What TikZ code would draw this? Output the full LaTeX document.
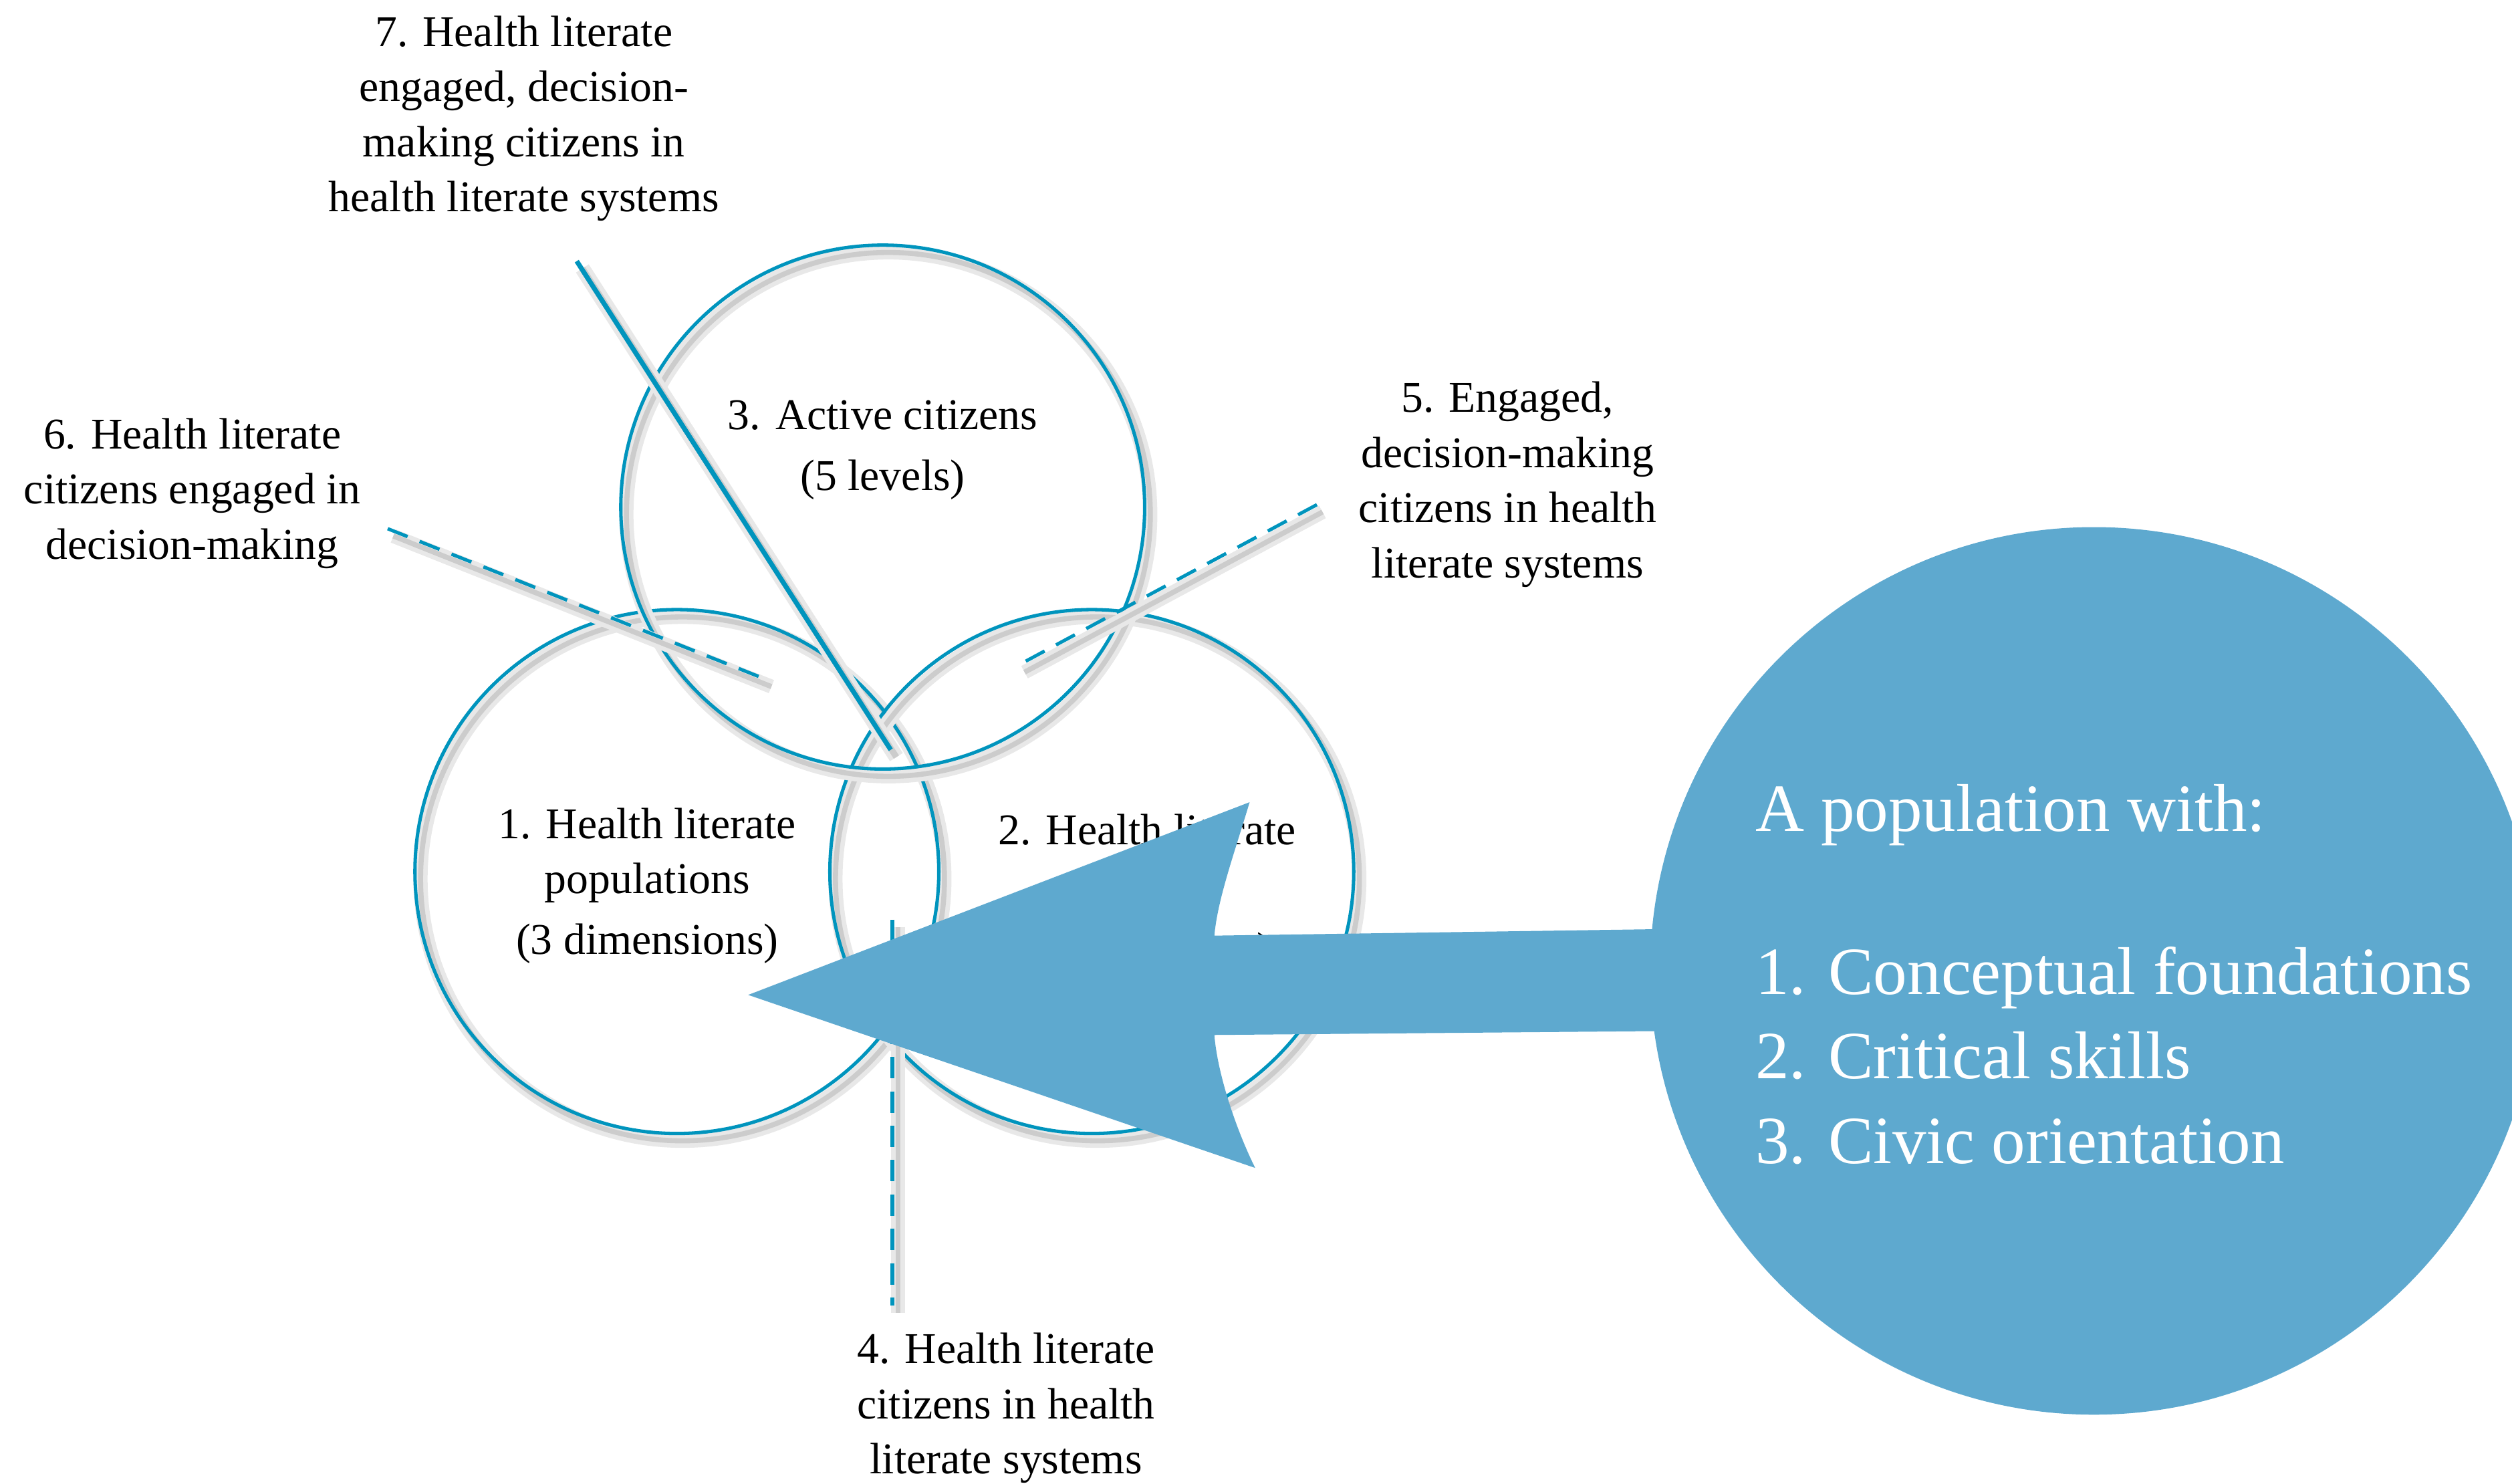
\documentclass[tikz,border=0pt]{standalone}
\usepackage{fontspec}
\setmainfont{Liberation Serif}
\usetikzlibrary{positioning}
\definecolor{hlteal}{RGB}{0,148,189}
\definecolor{hlfill}{RGB}{94,169,207}
\tikzset{
  shadowed/.style={
    preaction={draw=black!9, line width=#1+1.6pt, transform canvas={shift={(1pt,-1.3pt)}}},
    preaction={draw=black!20, line width=#1, transform canvas={shift={(1pt,-1.3pt)}}}},
  ring/.style={circle, draw=hlteal, line width=0.6pt, minimum size=3.27cm, inner sep=0pt, shadowed=0.9pt},
  leader/.style={draw=hlteal, line width=0.6pt, dash pattern=on 3.8pt off 2.3pt, shadowed=0.9pt},
  lbl/.style={align=center, font=\fontsize{7.8}{9.8}\selectfont},
}

\begin{document}
\begin{tikzpicture}
\useasboundingbox (0,0) rectangle (15.68,9.26);
% the three overlapping circles
\node[ring] (c1) at (4.225,3.82) {};
\node[ring] (c2) at (6.815,3.82) {};
\node[ring] (c3) at (5.51,6.095) {};
% end points of the leader lines
\coordinate (p7) at (3.60,7.63); \coordinate (q7) at (5.56,4.58);
\coordinate (p6) at (2.42,5.96); \coordinate (q6) at (4.78,5.02);
\coordinate (p5) at (8.22,6.11); \coordinate (q5) at (6.36,5.11);
\coordinate (p4) at (5.57,3.52); \coordinate (q4) at (5.57,1.11);
\draw[hlteal, line width=0.85pt, shadowed=1.1pt] (p7) -- (q7);
\draw[leader] (p6) -- (q6);
\draw[leader] (p5) -- (q5);
\draw[leader] (p4) -- (q4);
% labels
\node[lbl] (l1) at (4.04,3.73) {1. Health literate\\populations\\[1pt](3 dimensions)};
\node[lbl] (l2) at (7.16,4.08) {2. Health literate};
\node[lbl, anchor=base] (l2b) at (7.89,3.25) {)};
\node[lbl] (l3) at (5.51,6.45) {3. Active citizens\\[1pt](5 levels)};
\node[lbl] (l4) at (6.28,0.47) {4. Health literate\\citizens in health\\literate systems};
\node[lbl] (l5) at (9.41,6.235) {5. Engaged,\\decision-making\\citizens in health\\literate systems};
\node[lbl] (l6) at (1.20,6.18) {6. Health literate\\citizens engaged in\\decision-making};
\node[lbl] (l7) at (3.27,8.52) {7. Health literate\\engaged, decision-\\making citizens in\\health literate systems};
% big arrow into the circles
\fill[hlfill] (11.0,3.47) -- (7.58,3.42) .. controls (7.60,3.65) and (7.71,3.95) .. (7.80,4.253)
  -- (4.67,3.05) -- (7.835,1.97) .. controls (7.72,2.20) and (7.60,2.55) .. (7.58,2.80)
  -- (11.0,2.83) -- cycle;
% population circle
\node[circle, fill=hlfill, minimum size=5.54cm, inner sep=0pt] (pop) at (13.07,3.20) {};
\node[anchor=west, align=left, inner sep=0pt, text=white, font=\fontsize{12}{15}\selectfont] (poptxt) at (10.95,3.18)
  {A population with:\\[14pt]1. Conceptual foundations\\2. Critical skills\\3. Civic orientation};
\end{tikzpicture}
\end{document}
